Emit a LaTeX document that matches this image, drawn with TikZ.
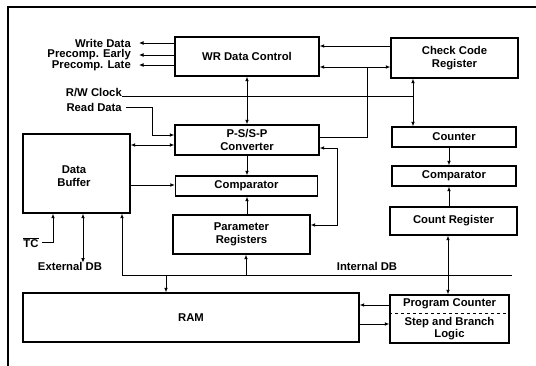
\documentclass[tikz,border=0pt]{standalone}
\usepackage{fontspec}
\setmainfont{Liberation Sans}
\usetikzlibrary{arrows.meta}
\tikzset{
  box/.style={draw, line width=1.3pt, inner sep=1pt, align=center, font=\bfseries\fontsize{11.3}{12.5}\selectfont},
  lbl/.style={inner sep=0pt, align=center, font=\bfseries\fontsize{11.3}{12.5}\selectfont},
  conn/.style={line width=0.9pt},
  arr/.style={conn, -{Latex[length=4.5pt,width=3.8pt]}},
  biarr/.style={conn, {Latex[length=4.5pt,width=3.8pt]}-{Latex[length=4.5pt,width=3.8pt]}},
}
\begin{document}
\begin{tikzpicture}[x=1pt, y=-1pt]
\useasboundingbox (0,0) rectangle (536,366);
% frame
\coordinate (fa) at (8,366);
\coordinate (fb) at (8,7);
\coordinate (fc) at (536,7);
\draw[line width=1.1pt] (fa) -- (fb) -- (fc);

% boxes
\node[box, minimum width=144pt, minimum height=39pt] (wr) at (247,56.5) {WR Data Control};
\node[box, minimum width=127pt, minimum height=40pt] (ccr) at (454.5,58) {Check Code\\Register};
\node[box, minimum width=144pt, minimum height=30pt] (conv) at (247,140) {P-S/S-P\\Converter};
\node[box, minimum width=142pt, minimum height=20pt] (cmpa) at (246.5,186) {Comparator};
\node[box, minimum width=137pt, minimum height=39pt] (par) at (241.5,234.5) {Parameter\\Registers};
\node[box, minimum width=107pt, minimum height=79pt] (buf) at (76.5,173.5) {};
\node[lbl] (buft) at (74,176) {Data\\Buffer};
\node[box, minimum width=336pt, minimum height=49pt] (ram) at (191,317.5) {RAM};
\node[box, minimum width=124pt, minimum height=20pt] (cnt) at (454,137) {Counter};
\node[box, minimum width=124pt, minimum height=20pt] (cmpb) at (454,176) {Comparator};
\node[box, minimum width=127pt, minimum height=28pt] (creg) at (453.5,221) {Count Register};
\node[box, minimum width=119pt, minimum height=48pt] (pc) at (449.5,319) {};
\draw[dashed, line width=0.9pt] (pc.west |- 0,313) -- (pc.east |- 0,313);
\node[lbl] (pct) at (449.5,304) {Program Counter};
\node[lbl] (sbl) at (449.5,328.5) {Step and Branch\\Logic};

% left labels and outputs
\node[lbl, anchor=east] (wd) at (131,43) {Write Data};
\node[lbl, anchor=east] (pe) at (131,54.5) {Precomp. Early};
\node[lbl, anchor=east] (pl) at (131,66) {Precomp. Late};
\coordinate (wdE) at (139,43);
\coordinate (peE) at (139,55);
\coordinate (plE) at (139,65);
\draw[arr] (wr.west |- wdE) -- (wdE);
\draw[arr] (wr.west |- peE) -- (peE);
\draw[arr] (wr.west |- plE) -- (plE);

% R/W clock
\node[lbl, anchor=east] (rw) at (122,93) {R/W Clock};
\coordinate (vx) at (413,96);
\draw[conn] (rw.east |- vx) -- (vx);
\draw[biarr] (ccr.south -| vx) -- (cnt.north -| vx);

% Read data
\node[lbl, anchor=east] (rd) at (122,107) {Read Data};
\coordinate (rdA) at (152,135);
\draw[arr] ([xshift=4pt]rd.east) -| (rdA) -- (conv.west |- rdA);

% buffer <-> converter
\coordinate (bc) at (150,145);
\draw[biarr] (buf.east |- bc) -- (conv.west |- bc);

% WR <-> converter
\draw[biarr] (wr.south) -- (conv.north);

% WR <-> CCR
\coordinate (wc1) at (350,46);
\coordinate (wc2) at (367,67);
\draw[arr] (ccr.west |- wc1) -- (wr.east |- wc1);
\draw[biarr] (wr.east |- wc2) -- (ccr.west |- wc2);
\coordinate (cv) at (367,137);
\draw[conn] (wc2) -- (cv) -- (conv.east |- cv);

% converter <-> parameter registers
\coordinate (cpa) at (337,148);
\coordinate (cpb) at (337,225);
\draw[biarr] (conv.east |- cpa) -- (cpa) -- (cpb) -- (par.east |- cpb);

% converter -> comparator, parameter -> comparator
\coordinate (mx) at (247,0);
\draw[arr] (conv.south -| mx) -- (cmpa.north -| mx);
\draw[arr] (par.north -| mx) -- (cmpa.south -| mx);

% buffer -> comparator
\coordinate (bm) at (150,185);
\draw[arr] (buf.east |- bm) -- (cmpa.west |- bm);

% TC
\node[lbl] (tc) at (31,244) {TC};
\draw[line width=0.8pt] ([yshift=1.5pt]tc.north west) -- ([yshift=1.5pt]tc.north east);
\coordinate (tcx) at (53,0);
\draw[arr] ([xshift=3pt,yshift=2pt]tc.east) -| (buf.south -| tcx);

% External DB
\node[lbl] (edb) at (70,266) {External DB};
\coordinate (ex) at (83,0);
\draw[biarr] (buf.south -| ex) -- ([yshift=-1pt]edb.north -| ex);

% Internal DB bus
\coordinate (ba) at (122,275);
\coordinate (bb) at (512,275);
\draw[conn] (ba) -- (bb);
\draw[arr] (ba) -- (buf.south -| ba);
\coordinate (br) at (166,275);
\draw[arr] (br) -- (ram.north -| br);
\coordinate (bp) at (246,275);
\draw[arr] (bp) -- (par.south -| bp);
\node[lbl] (idb) at (367,266) {Internal DB};

% right column
\coordinate (rx) at (449,0);
\draw[arr] (cnt.south -| rx) -- (cmpb.north -| rx);
\draw[arr] (creg.north -| rx) -- (cmpb.south -| rx);
\coordinate (rx2) at (448,0);
\draw[biarr] (creg.south -| rx2) -- (pc.north -| rx2);

% PC <-> RAM
\coordinate (pr1) at (375,305);
\coordinate (pr2) at (375,324);
\draw[arr] (pc.west |- pr1) -- (ram.east |- pr1);
\draw[arr] (ram.east |- pr2) -- (pc.west |- pr2);
\end{tikzpicture}
\end{document}
